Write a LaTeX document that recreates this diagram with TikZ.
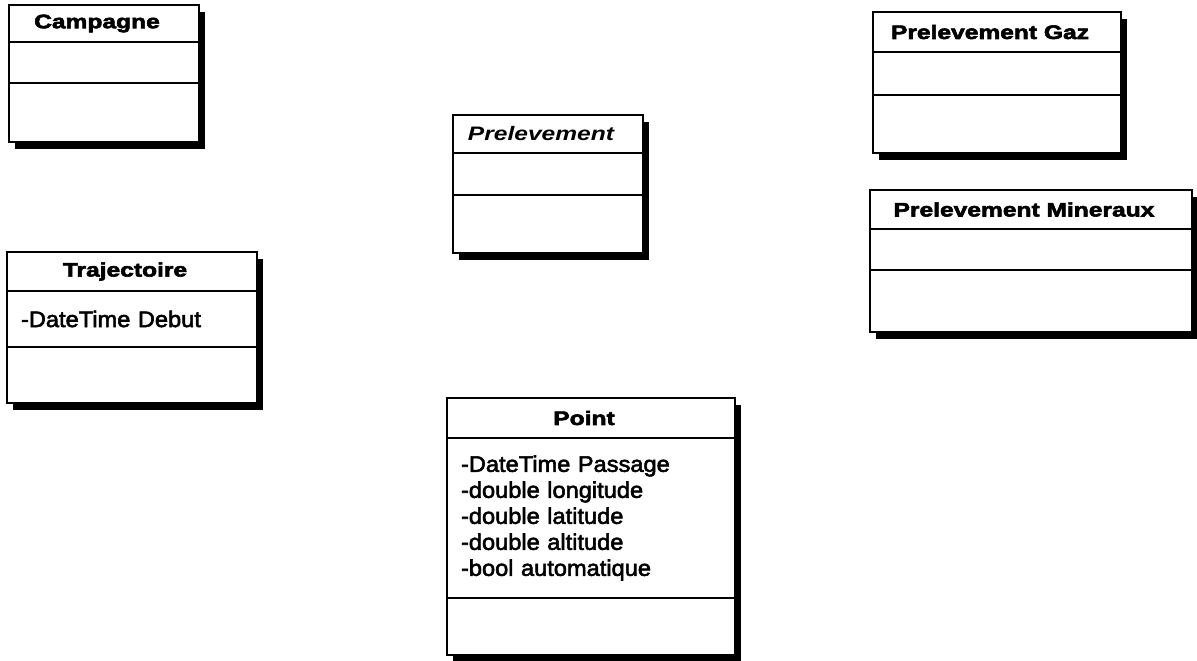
\documentclass[tikz,border=0pt]{standalone}
\usepackage{fontspec}
\setmainfont{Liberation Sans}
\newfontfamily\titlefont[FakeStretch=1.26, BoldFeatures={FakeBold=3}]{Liberation Sans}
\newfontfamily\attrfont[FakeStretch=1.05, FakeBold=2.5]{Liberation Sans}
\usepackage{tikz}
\usetikzlibrary{positioning, shadows}
\tikzstyle{classhead} = [rectangle, draw=black, line width=1.7pt, fill=white, outer sep=0pt, inner xsep=14pt, inner ysep=0pt, font=\titlefont\bfseries\fontsize{19.5}{21}\selectfont, execute at end node={\hspace*{14pt}}, drop shadow={shadow xshift=6pt, shadow yshift=-7pt, opacity=1, fill=black}]
\tikzstyle{classpart} = [rectangle, draw=black, line width=1.7pt, fill=white, outer sep=0pt, inner xsep=14pt, inner ysep=0pt, align=left, font=\attrfont\fontsize{22.5}{26}\selectfont, drop shadow={shadow xshift=6pt, shadow yshift=-7pt, opacity=1, fill=black}]

\begin{document}
\begin{tikzpicture}
        \useasboundingbox (0pt,0pt) rectangle (1197pt,-661pt);

        % Classe Campagne
        \node (campagne) [classhead, minimum width=190pt, minimum height=37pt, anchor=north west] at (9pt,-5pt) {Campagne};
        \node (campagneattr) [classpart, text width=162pt, minimum height=41pt, below=0pt of campagne] {};
        \node (campagneops) [classpart, text width=162pt, minimum height=59pt, below=0pt of campagneattr] {};

        % Classe Trajectoire
        \node (traj) [classhead, minimum width=250pt, minimum height=39pt, anchor=north west] at (7pt,-252pt) {Trajectoire};
        \node (trajattr) [classpart, text width=222pt, minimum height=56pt, below=0pt of traj] {-DateTime Debut};
        \node (trajops) [classpart, text width=222pt, minimum height=56pt, below=0pt of trajattr] {};

        % Classe abstraite Prelevement
        \node (prel) [classhead, minimum width=190pt, minimum height=38pt, anchor=north west] at (453pt,-115pt) {\itshape Prelevement};
        \node (prelattr) [classpart, text width=162pt, minimum height=42pt, below=0pt of prel] {};
        \node (prelops) [classpart, text width=162pt, minimum height=58pt, below=0pt of prelattr] {};

        % Classe Prelevement Gaz
        \node (gaz) [classhead, minimum width=248pt, minimum height=40pt, anchor=north west] at (873pt,-12pt) {Prelevement Gaz};
        \node (gazattr) [classpart, text width=220pt, minimum height=43pt, below=0pt of gaz] {};
        \node (gazops) [classpart, text width=220pt, minimum height=58pt, below=0pt of gazattr] {};

        % Classe Prelevement Mineraux
        \node (min) [classhead, minimum width=322pt, minimum height=39pt, anchor=north west] at (870pt,-190pt) {Prelevement Mineraux};
        \node (minattr) [classpart, text width=294pt, minimum height=41pt, below=0pt of min] {};
        \node (minops) [classpart, text width=294pt, minimum height=62pt, below=0pt of minattr] {};

        % Classe Point
        \node (point) [classhead, minimum width=288pt, minimum height=40pt, anchor=north west] at (447pt,-398pt) {Point};
        \node (pointattr) [classpart, text width=260pt, minimum height=160pt, below=0pt of point] {-DateTime Passage\\-double longitude\\-double latitude\\-double altitude\\-bool automatique};
        \node (pointops) [classpart, text width=260pt, minimum height=57pt, below=0pt of pointattr] {};
\end{tikzpicture}
\end{document}
